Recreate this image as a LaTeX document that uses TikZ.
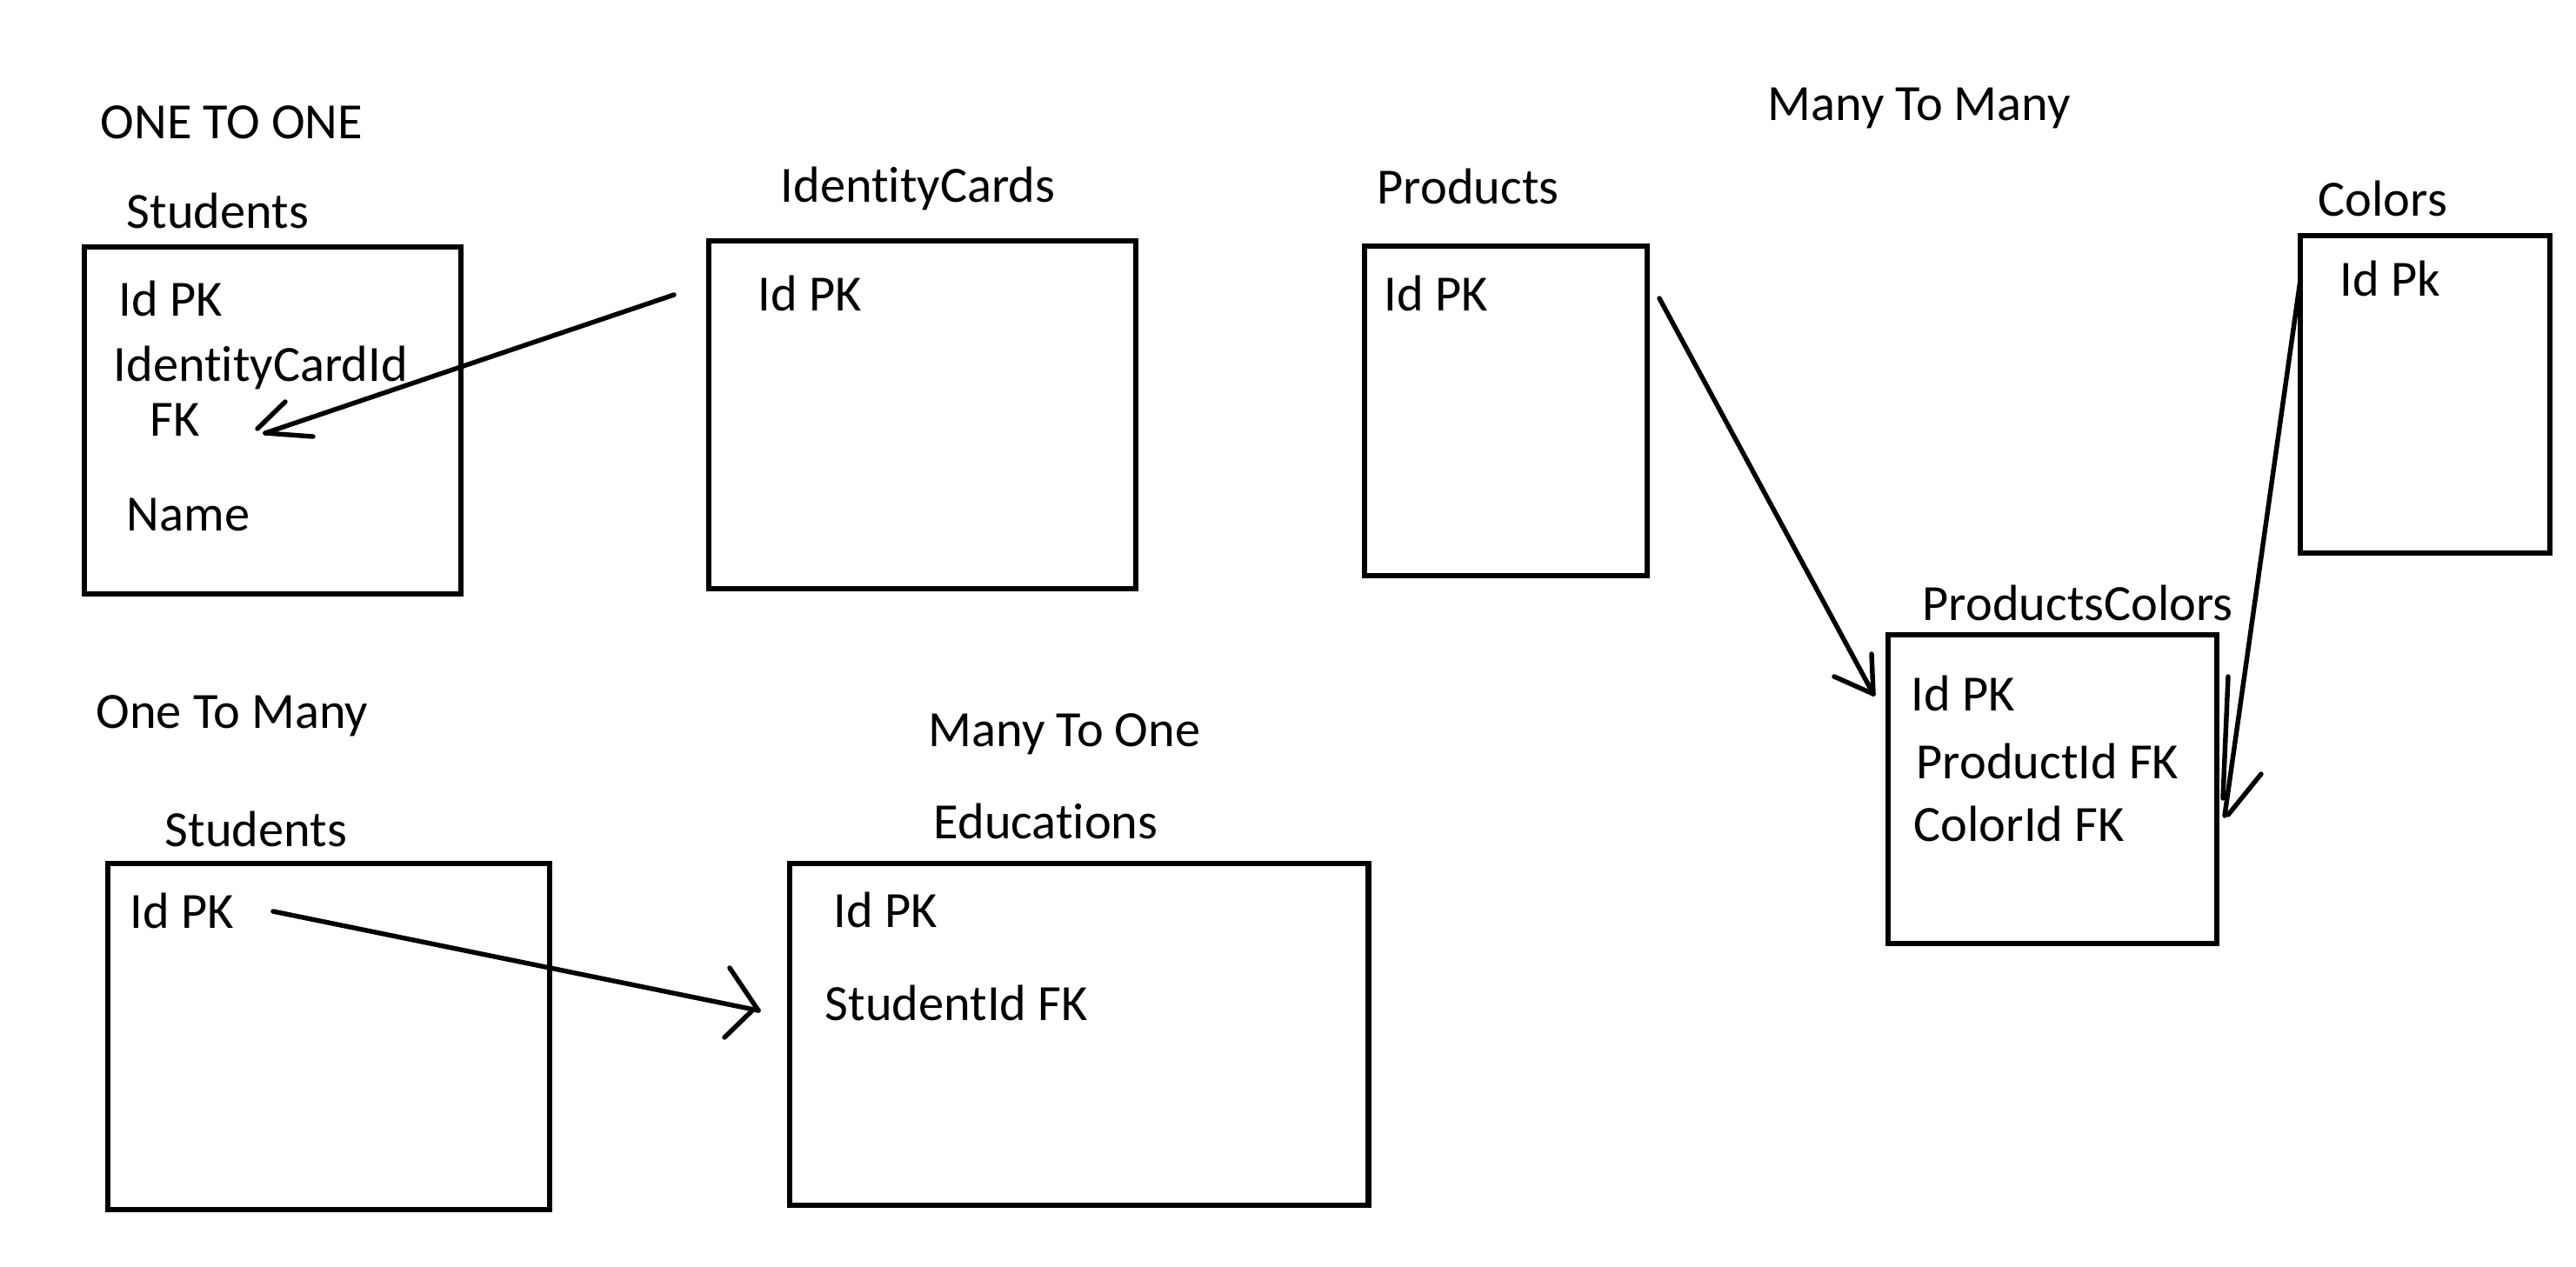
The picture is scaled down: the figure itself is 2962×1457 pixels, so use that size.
\documentclass[tikz,border=0pt]{standalone}
\usepackage{fontspec}
\setmainfont{Carlito}[Ligatures={NoCommon}]
\begin{document}
\begin{tikzpicture}[x=0.01cm,y=-0.01cm,
  tbl/.style={draw=black,line width=1.75pt,rectangle,inner sep=0pt,anchor=north west},
  lbl/.style={inner sep=0pt,anchor=base west,font=\fontsize{16.6}{20}\selectfont},
  conn/.style={line width=1.55pt,line cap=round}]
\useasboundingbox[fill=white] (0,0) rectangle (2962,1457);

% tables
\node[tbl,minimum width=4.33cm,minimum height=3.99cm] (stu1) at (94,281) {};
\node[tbl,minimum width=4.91cm,minimum height=4.00cm] (idc) at (812,274) {};
\node[tbl,minimum width=3.25cm,minimum height=3.79cm] (prod) at (1566,280) {};
\node[tbl,minimum width=2.87cm,minimum height=3.65cm] (col) at (2642,268) {};
\node[tbl,minimum width=3.78cm,minimum height=3.55cm] (pc) at (2168,727) {};
\node[tbl,minimum width=5.08cm,minimum height=3.98cm] (stu2) at (121,990) {};
\node[tbl,minimum width=6.65cm,minimum height=3.93cm] (edu) at (905,990) {};

% headings and titles
\node[lbl] (t1) at (115,159) {ONE TO ONE};
\node[lbl] (t2) at (2032,138) {Many To Many};
\node[lbl] (t3) at (110,837) {One To Many};
\node[lbl] (t4) at (1067,858) {Many To One};

\node[lbl] (h1) at (145,262) {Students};
\node[lbl] (h2) at (897,232) {IdentityCards};
\node[lbl] (h3) at (1583,234) {Products};
\node[lbl] (h4) at (2665,248) {Colors};
\node[lbl] (h5) at (2210,713) {ProductsColors};
\node[lbl] (h6) at (189,973) {Students};
\node[lbl] (h7) at (1073,964) {Educations};

% fields
\node[lbl] (s1id) at (136,363) {Id PK};
\node[lbl] (s1fk) at (130,438) {IdentityCardId};
\node[lbl] (s1fk2) at (172,501) {FK};
\node[lbl] (s1nm) at (145,610) {Name};
\node[lbl] (icid) at (871,357) {Id PK};
\node[lbl] (prid) at (1591,357) {Id PK};
\node[lbl] (coid) at (2690,340) {Id Pk};
\node[lbl] (pcid) at (2197,817) {Id PK};
\node[lbl] (pcpf) at (2203,895) {ProductId FK};
\node[lbl] (pccf) at (2200,967) {ColorId FK};
\node[lbl] (s2id) at (149,1067) {Id PK};
\node[lbl] (edid) at (958,1066) {Id PK};
\node[lbl] (edfk) at (948,1173) {StudentId FK};

% connector end points
\coordinate (a1s) at (775,339);  \coordinate (a1e) at (305,498);
\coordinate (a2s) at (1908,343); \coordinate (a2e) at (2154,798);
\coordinate (a3s) at (2645,322); \coordinate (a3e) at (2558,938);
\coordinate (a4s) at (314,1048); \coordinate (a4e) at (872,1162);

% connectors with hand-drawn heads
\draw[conn] (a1s) -- (a1e);
\draw[conn] (a1e) ++(-9,-5) -- ++(32,-31);
\draw[conn] (a1e) -- ++(55,4);

\draw[conn] (a2s) -- (a2e);
\draw[conn] (a2e) -- ++(-2,-46);
\draw[conn] (a2e) -- ++(-45,-20);

\draw[conn] (a3s) -- (a3e);
\draw[conn] (a3e) ++(-2,-20) -- ++(6,-140);
\draw[conn] (a3e) ++(4,-1) -- ++(38,-47);

\draw[conn] (a4s) -- (a4e);
\draw[conn] (a4e) -- ++(-33,-49);
\draw[conn] (a4e) ++(-8,1) -- ++(-31,30);
\end{tikzpicture}
\end{document}
